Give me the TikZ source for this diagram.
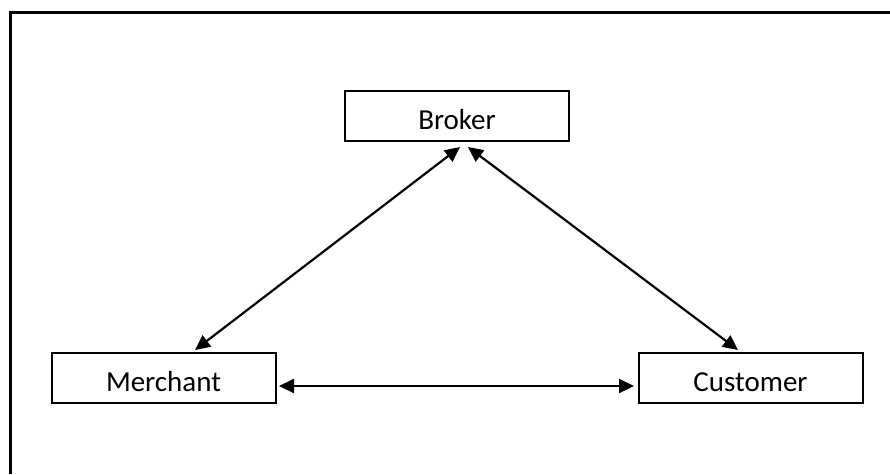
\documentclass[tikz,border=0pt]{standalone}
\usepackage{fontspec}
\setmainfont{Carlito}
\usetikzlibrary{arrows.meta}
\tikzset{
  box/.style={draw, line width=2pt, minimum width=224pt, minimum height=50pt,
    inner sep=0pt, text height=26pt, text depth=0pt, font=\fontsize{29}{33}\selectfont},
  link/.style={line width=2.2pt, {Triangle[length=15pt,width=14pt]}-{Triangle[length=15pt,width=14pt]}}
}
\begin{document}
\begin{tikzpicture}[x=1pt,y=-1pt]
    \useasboundingbox (0,0) rectangle (890,474);
    \draw[line width=3pt] (10.5,474) -- (10.5,12.5) -- (890,12.5);
    \node[box] (broker) at (457,116) {Broker};
    \node[box] (merchant) at (163.5,378) {Merchant};
    \node[box] (customer) at (750.5,378) {Customer};
    \draw[link] ([shift={(31.5,-2)}]merchant.north) -- ([shift={(3,5)}]broker.south);
    \draw[link] ([shift={(11,5)}]broker.south) -- ([shift={(-12.5,-2)}]customer.north);
    \draw[link] ([shift={(2.5,8)}]merchant.east) -- ([shift={(-3.5,8)}]customer.west);
\end{tikzpicture}
\end{document}
